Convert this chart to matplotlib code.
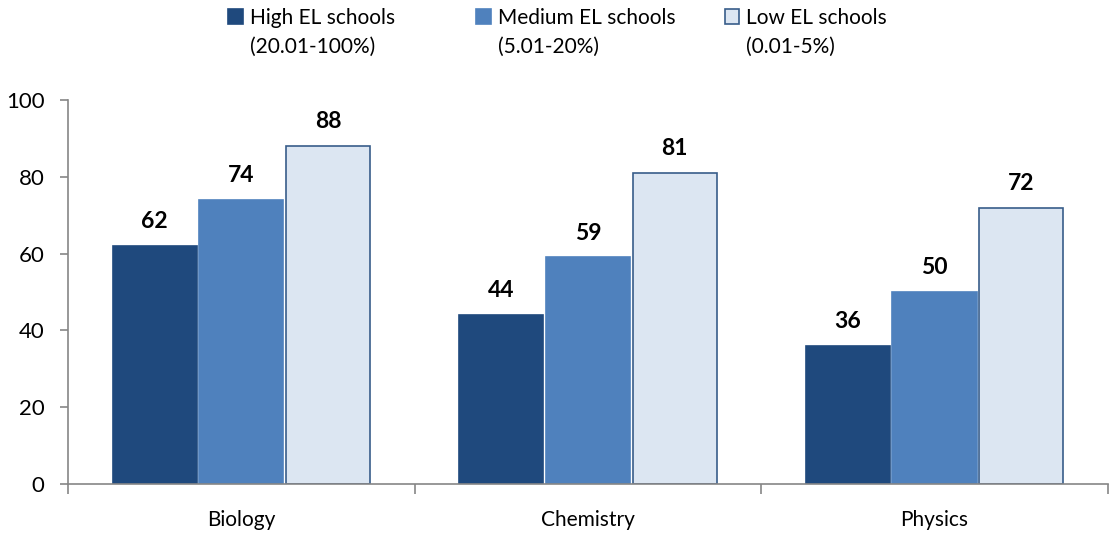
import numpy as np
import matplotlib
matplotlib.use("Agg")
import matplotlib.pyplot as plt

subjects = ["Biology", "Chemistry", "Physics"]
series_names = ["High EL schools", "Medium EL schools", "Low EL schools"]
series_ranges = ["(20.01-100%)", "(5.01-20%)", "(0.01-5%)"]
high_el = [62, 44, 36]
medium_el = [74, 59, 50]
low_el = [88, 81, 72]

fills = ["#1f497d", "#4f81bd", "#dce6f2"]
edges = ["#1f497d", "#4f81bd", "#385d8a"]

plt.rcParams["font.family"] = ["Lato", "DejaVu Sans"]

fig = plt.figure(figsize=(11.1, 5.33), dpi=100)
ax = fig.add_axes([0.0613, 0.0919, 0.9367, 0.7205])

x = np.arange(len(subjects))
width = 0.25
handles = []
for i, vals in enumerate([high_el, medium_el, low_el]):
    offs = (i - 1) * width
    bars = ax.bar(x + offs, vals, width * 0.97, color=fills[i],
                  edgecolor=edges[i], linewidth=1.2, label=series_names[i])
    handles.append(bars)
    for xb, v in zip(x + offs, vals):
        ax.annotate(str(v), (xb, v), xytext=(0, 10), textcoords="offset points",
                    ha="center", va="bottom", fontsize=16.5, fontweight="bold")

ax.set_xlim(-0.5, 2.5)
ax.set_ylim(0, 100)
ax.set_yticks([0, 20, 40, 60, 80, 100])
ax.set_xticks(x)
ax.set_xticklabels(subjects)
ax.set_xticks([-0.5, 0.5, 1.5, 2.5], minor=True)
ax.tick_params(axis="x", which="major", length=0, pad=19, labelsize=15)
ax.tick_params(axis="x", which="minor", length=7, width=1.2, color="#868686")
ax.tick_params(axis="y", length=6, width=1.2, color="#868686", pad=11, labelsize=16)
for s in ["top", "right"]:
    ax.spines[s].set_visible(False)
for s in ["left", "bottom"]:
    ax.spines[s].set_color("#868686")
    ax.spines[s].set_linewidth(1.2)

# one legend per series so the columns sit at even spacing
legend_x = [0.202, 0.425, 0.649]
legends = []
for h, name, lx in zip(handles, series_names, legend_x):
    leg = fig.legend(handles=[h], labels=[name], loc="upper left",
                     bbox_to_anchor=(lx, 0.993), frameon=False, fontsize=15,
                     handlelength=0.7, handleheight=0.7, handletextpad=0.35,
                     borderaxespad=0, borderpad=0.2)
    legends.append(leg)

fig.canvas.draw()
renderer = fig.canvas.get_renderer()
inv = fig.transFigure.inverted()
for leg, rng in zip(legends, series_ranges):
    bb = leg.get_texts()[0].get_window_extent(renderer)
    x0, y0 = inv.transform((bb.x0, bb.y0))
    fig.text(x0, y0 - 0.016, rng, ha="left", va="top", fontsize=15)

fig.savefig("out.png", dpi=100)
